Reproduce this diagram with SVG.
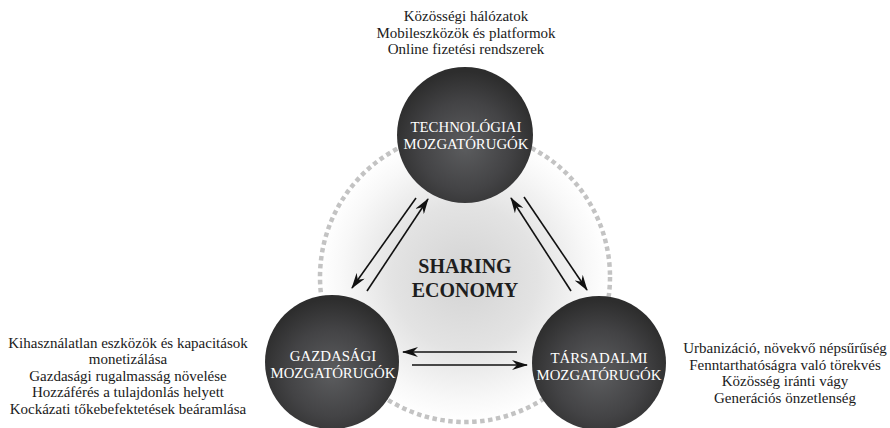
<svg xmlns="http://www.w3.org/2000/svg" width="890" height="428" viewBox="0 0 890 428">
<defs>
<radialGradient id="bg" cx="50%" cy="50%" r="50%">
<stop offset="0" stop-color="#d3d3d3"/>
<stop offset="0.5" stop-color="#e3e3e3"/>
<stop offset="0.85" stop-color="#f8f8f8"/>
<stop offset="1" stop-color="#ffffff"/>
</radialGradient>
<radialGradient id="ball" cx="50%" cy="58%" r="55%">
<stop offset="0" stop-color="#5c5d5f"/>
<stop offset="0.6" stop-color="#434345"/>
<stop offset="1" stop-color="#2d2d2d"/>
</radialGradient>
<marker id="ah" viewBox="0 0 16 10" markerWidth="16" markerHeight="10" refX="15" refY="5" orient="auto" markerUnits="userSpaceOnUse">
<path d="M0,0 L16,5 L0,10 L5,5 Z" fill="#111"/>
</marker>
</defs>
<style>
text{font-family:'Liberation Serif','Times New Roman',serif}
.lbl{font-size:15px;fill:#1a1a1a;text-anchor:middle}
.node{font-size:14.8px;fill:#ffffff;text-anchor:middle}
.title{font-size:20px;font-weight:bold;fill:#1e1e1e;text-anchor:middle}
.arr{stroke:#111;stroke-width:1.6;fill:none;marker-end:url(#ah)}
</style>
<rect width="890" height="428" fill="#ffffff"/>
<g id="background">
<circle cx="465" cy="277" r="145" fill="url(#bg)"/>
<circle cx="465" cy="277" r="145" fill="none" stroke="#c3c3c3" stroke-width="4.5" stroke-dasharray="4.5 3.5"/>
<text class="title" x="465" y="273">SHARING</text>
<text class="title" x="465" y="297">ECONOMY</text>
</g>
<g id="connectors">
<line class="arr" x1="416" y1="198" x2="352" y2="288"/>
<line class="arr" x1="367" y1="291" x2="428" y2="199"/>
<line class="arr" x1="571" y1="291" x2="511" y2="198"/>
<line class="arr" x1="524" y1="197" x2="587" y2="290"/>
<line class="arr" x1="517" y1="352" x2="403" y2="352"/>
<line class="arr" x1="412" y1="365" x2="527" y2="365"/>
</g>
<g id="node-tech">
<circle cx="465" cy="135" r="68" fill="url(#ball)"/>
<text class="node" x="466" y="132">TECHNOLÓGIAI</text>
<text class="node" x="466" y="149">MOZGATÓRUGÓK</text>
</g>
<g id="node-gazd">
<circle cx="332" cy="362" r="67" fill="url(#ball)"/>
<text class="node" x="333" y="361">GAZDASÁGI</text>
<text class="node" x="333" y="378">MOZGATÓRUGÓK</text>
</g>
<g id="node-tars">
<circle cx="599" cy="363" r="67" fill="url(#ball)"/>
<text class="node" x="599" y="363">TÁRSADALMI</text>
<text class="node" x="599" y="380">MOZGATÓRUGÓK</text>
</g>
<g id="text-tech">
<text class="lbl" x="466" y="21">Közösségi hálózatok</text>
<text class="lbl" x="466" y="38">Mobileszközök és platformok</text>
<text class="lbl" x="466" y="54">Online fizetési rendszerek</text>
</g>
<g id="text-gazd">
<text class="lbl" x="128" y="348">Kihasználatlan eszközök és kapacitások</text>
<text class="lbl" x="128" y="364">monetizálása</text>
<text class="lbl" x="128" y="381">Gazdasági rugalmasság növelése</text>
<text class="lbl" x="128" y="397">Hozzáférés a tulajdonlás helyett</text>
<text class="lbl" x="128" y="414">Kockázati tőkebefektetések beáramlása</text>
</g>
<g id="text-tars">
<text class="lbl" x="785" y="353">Urbanizáció, növekvő népsűrűség</text>
<text class="lbl" x="785" y="370">Fenntarthatóságra való törekvés</text>
<text class="lbl" x="785" y="386">Közösség iránti vágy</text>
<text class="lbl" x="785" y="403">Generációs önzetlenség</text>
</g>
</svg>
